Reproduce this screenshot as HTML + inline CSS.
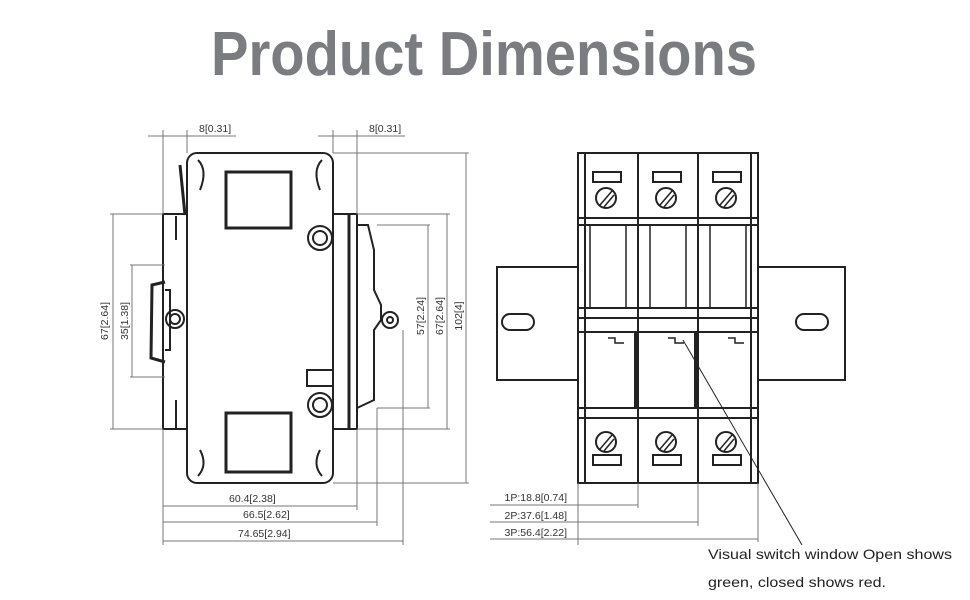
<!DOCTYPE html>
<html><head><meta charset="utf-8"><style>
html,body{margin:0;padding:0;background:#fff;}
svg{display:block;}
</style></head><body>
<svg width="970" height="600" viewBox="0 0 970 600" xmlns="http://www.w3.org/2000/svg" font-family="Liberation Sans, sans-serif">
<rect width="970" height="600" fill="#fff"/>
<text x="211" y="75" font-size="62" font-weight="bold" fill="#7b7c80" textLength="546" lengthAdjust="spacingAndGlyphs">Product Dimensions</text>

<!-- LEFT DRAWING -->
<g fill="none" stroke="#222" stroke-width="2">
  <rect x="187" y="153" width="146" height="330" rx="10"/>
  <rect x="163" y="214" width="24" height="215"/>
  <rect x="333" y="214" width="24" height="215"/>
  <line x1="349" y1="214" x2="349" y2="429" stroke-width="3"/>
  <path d="M357 225 L368 225 L374 250 L374 290 L381 305 L381 320 L374 330 L374 400 L357 408"/>
  <rect x="226" y="172" width="65" height="56" stroke-width="3"/>
  <rect x="226" y="413" width="65" height="59" stroke-width="3"/>
  <circle cx="320" cy="238" r="12"/><circle cx="320" cy="238" r="7"/>
  <circle cx="320" cy="405" r="12"/><circle cx="320" cy="405" r="7"/>
  <rect x="307" y="370" width="26" height="16"/>
  <path d="M165 282 L152 285 L151 358 L165 362" stroke-width="3"/>
  <path d="M165 290 L170 290 L170 350 L165 350"/>
  <circle cx="175" cy="319" r="9"/><circle cx="175" cy="319" r="5"/>
  <circle cx="390" cy="320" r="8"/><circle cx="390" cy="320" r="3"/>
  <path d="M180 165 L185 215" stroke-width="3"/>
  <path d="M198 160 Q208 170 200 190"/><path d="M322 160 Q312 170 320 190"/>
  <path d="M198 476 Q208 465 200 450"/><path d="M322 476 Q312 465 320 450"/>
  <path d="M176 216 L176 240 M176 400 L176 428"/>
</g>
<g stroke="#777" stroke-width="1" fill="none">
  <line x1="163" y1="130" x2="163" y2="214"/><line x1="187" y1="130" x2="187" y2="153"/>
  <line x1="148" y1="136" x2="236" y2="136"/>
  <line x1="333" y1="130" x2="333" y2="153"/><line x1="357" y1="130" x2="357" y2="214"/>
  <line x1="318" y1="136" x2="405" y2="136"/>
  <line x1="110" y1="214" x2="163" y2="214"/><line x1="110" y1="429" x2="163" y2="429"/>
  <line x1="113" y1="214" x2="113" y2="429"/>
  <line x1="130" y1="265" x2="165" y2="265"/><line x1="130" y1="377" x2="165" y2="377"/>
  <line x1="132" y1="265" x2="132" y2="377"/>
  <line x1="377" y1="225" x2="430" y2="225"/><line x1="377" y1="408" x2="430" y2="408"/>
  <line x1="428" y1="225" x2="428" y2="408"/>
  <line x1="357" y1="214" x2="450" y2="214"/><line x1="357" y1="429" x2="450" y2="429"/>
  <line x1="447" y1="214" x2="447" y2="429"/>
  <line x1="333" y1="153" x2="469" y2="153"/><line x1="333" y1="483" x2="469" y2="483"/>
  <line x1="466" y1="153" x2="466" y2="483"/>
  <line x1="163" y1="429" x2="163" y2="545"/><line x1="357" y1="429" x2="357" y2="510"/>
  <line x1="377" y1="408" x2="377" y2="526"/><line x1="403" y1="330" x2="403" y2="545"/>
  <line x1="163" y1="506" x2="357" y2="506"/>
  <line x1="163" y1="522" x2="377" y2="522"/>
  <line x1="163" y1="541" x2="403" y2="541"/>
</g>
<g font-size="10.5" fill="#333">
  <text x="199" y="132">8[0.31]</text>
  <text x="369" y="132">8[0.31]</text>
  <text x="229" y="502">60.4[2.38]</text>
  <text x="243" y="518">66.5[2.62]</text>
  <text x="238" y="537">74.65[2.94]</text>
  <text transform="translate(108,321) rotate(-90)" text-anchor="middle">67[2.64]</text>
  <text transform="translate(128,321) rotate(-90)" text-anchor="middle">35[1.38]</text>
  <text transform="translate(424,316) rotate(-90)" text-anchor="middle">57[2.24]</text>
  <text transform="translate(443,316) rotate(-90)" text-anchor="middle">67[2.64]</text>
  <text transform="translate(462,316) rotate(-90)" text-anchor="middle">102[4]</text>
</g>

<!-- RIGHT DRAWING -->
<g fill="none" stroke="#222" stroke-width="2">
  <rect x="497" y="267" width="81" height="113"/>
  <rect x="758" y="267" width="87" height="113"/>
  <rect x="502" y="314" width="32" height="16" rx="8"/>
  <rect x="796" y="314" width="32" height="16" rx="8"/>
  <rect x="578" y="153" width="180" height="330"/>
  <line x1="638" y1="153" x2="638" y2="483"/>
  <line x1="698" y1="153" x2="698" y2="483"/>
  <line x1="578" y1="218" x2="758" y2="218"/>
  <line x1="578" y1="225" x2="758" y2="225"/>
  <line x1="578" y1="308" x2="758" y2="308"/>
  <line x1="578" y1="318" x2="758" y2="318"/>
  <line x1="578" y1="332" x2="758" y2="332"/>
  <line x1="578" y1="408" x2="758" y2="408"/>
  <line x1="578" y1="418" x2="758" y2="418"/>
  <line x1="585" y1="153" x2="585" y2="483"/>
  <line x1="751" y1="153" x2="751" y2="483"/>
  <line x1="636" y1="332" x2="636" y2="408" stroke-width="4"/>
  <line x1="696" y1="332" x2="696" y2="408" stroke-width="4"/>
  <rect x="593" y="172" width="28" height="10"/><rect x="653" y="172" width="28" height="10"/><rect x="713" y="172" width="28" height="10"/>
  <rect x="593" y="455" width="28" height="10"/><rect x="653" y="455" width="28" height="10"/><rect x="713" y="455" width="28" height="10"/>
  <circle cx="606" cy="198" r="10"/><circle cx="666" cy="198" r="10"/><circle cx="726" cy="198" r="10"/>
  <circle cx="606" cy="442" r="10"/><circle cx="666" cy="442" r="10"/><circle cx="726" cy="442" r="10"/>
  <path d="M600 205 L612 191 M604 207 L614 195 M660 205 L672 191 M664 207 L674 195 M720 205 L732 191 M724 207 L734 195" stroke-width="1.5"/>
  <path d="M600 449 L612 435 M604 451 L614 439 M660 449 L672 435 M664 451 L674 439 M720 449 L732 435 M724 451 L734 439" stroke-width="1.5"/>
  <path d="M590 225 L590 308 M626 225 L626 308 M650 225 L650 308 M686 225 L686 308 M710 225 L710 308 M746 225 L746 308" stroke-width="1.5"/>
  <path d="M608 338 L615 338 L615 343 L624 343 M668 338 L675 338 L675 343 L684 343 M728 338 L735 338 L735 343 L744 343" stroke-width="1.5"/>
</g>
<g stroke="#777" stroke-width="1" fill="none">
  <line x1="578" y1="483" x2="578" y2="545"/>
  <line x1="638" y1="483" x2="638" y2="508"/>
  <line x1="698" y1="483" x2="698" y2="526"/>
  <line x1="758" y1="483" x2="758" y2="542"/>
  <line x1="490" y1="505" x2="638" y2="505"/>
  <line x1="490" y1="522" x2="698" y2="522"/>
  <line x1="490" y1="539" x2="758" y2="539"/>
  <line x1="683" y1="340" x2="802" y2="545" stroke="#222"/>
</g>
<g font-size="10.5" fill="#333" text-anchor="end">
  <text x="567" y="501">1P:18.8[0.74]</text>
  <text x="567" y="519">2P:37.6[1.48]</text>
  <text x="567" y="536">3P:56.4[2.22]</text>
</g>
<g font-size="14" fill="#222">
  <text x="708" y="559" textLength="244" lengthAdjust="spacingAndGlyphs">Visual switch window Open shows</text>
  <text x="708" y="587" textLength="178" lengthAdjust="spacingAndGlyphs">green, closed shows red.</text>
</g>
</svg>
</body></html>
